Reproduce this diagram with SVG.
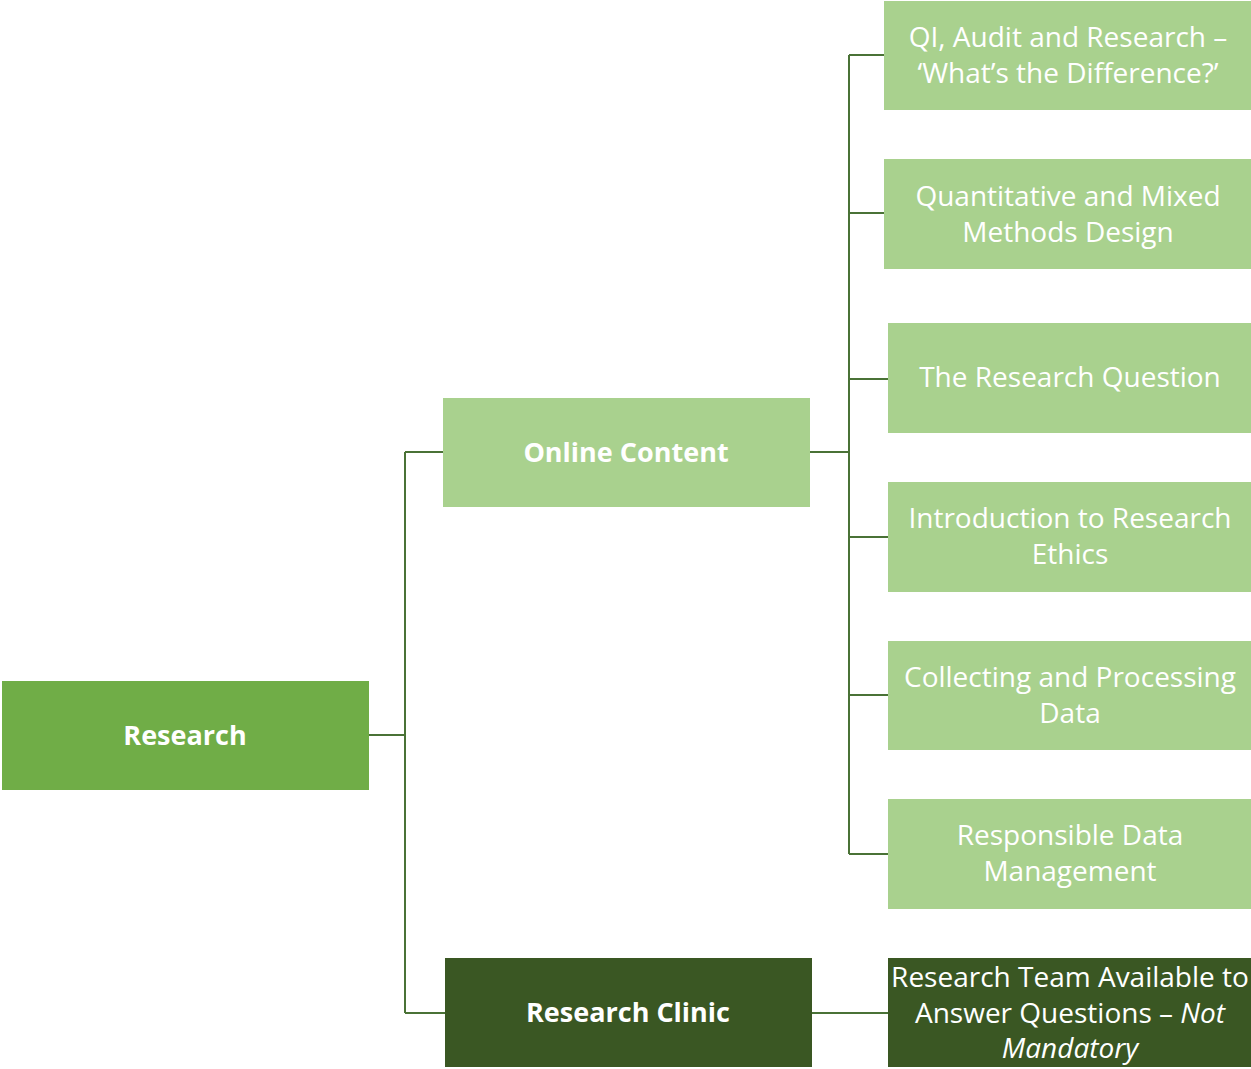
<svg xmlns="http://www.w3.org/2000/svg" width="1251" height="1069" viewBox="0 0 1251 1069">
<style>
.light{fill:#A9D18E}
.mid{fill:#70AD47}
.dark{fill:#3A5723}
.t{fill:#fff;font-family:"Open Sans","Liberation Sans",sans-serif;font-size:28px;text-anchor:middle;dominant-baseline:central}
.b{font-weight:bold;font-size:27px}
.c{fill:none;stroke:#4A7236;stroke-width:2}
</style>
<rect width="1251" height="1069" fill="#fff"/>
<g id="connectors">
<path class="c" d="M369 735H405M405 452V1013M405 452H443M405 1013H445"/>
<path class="c" d="M810 452H849M849 55V854M849 55H884M849 213H884M849 379H888M849 537H888M849 695H888M849 854H888"/>
<path class="c" d="M812 1013H888"/>
</g>
<g id="research"><rect class="mid" x="2" y="681" width="367" height="109"/><text class="t b" x="185" y="734">Research</text></g>
<g id="online-content"><rect class="light" x="443" y="398" width="367" height="109"/><text class="t b" x="626" y="451">Online Content</text></g>
<g id="research-clinic"><rect class="dark" x="445" y="958" width="367" height="109"/><text class="t b" x="628" y="1011">Research Clinic</text></g>
<g id="qi"><rect class="light" x="884" y="1" width="367" height="109"/><text class="t" x="1068" y="36">QI, Audit and Research –</text><text class="t" x="1068" y="72">‘What’s the Difference?’</text></g>
<g id="quant"><rect class="light" x="884" y="159" width="367" height="110"/><text class="t" x="1068" y="195">Quantitative and Mixed</text><text class="t" x="1068" y="231">Methods Design</text></g>
<g id="question"><rect class="light" x="888" y="323" width="363" height="110"/><text class="t" x="1070" y="376">The Research Question</text></g>
<g id="ethics"><rect class="light" x="888" y="482" width="363" height="110"/><text class="t" x="1070" y="517">Introduction to Research</text><text class="t" x="1070" y="553">Ethics</text></g>
<g id="collecting"><rect class="light" x="888" y="641" width="363" height="109"/><text class="t" x="1070" y="676">Collecting and Processing</text><text class="t" x="1070" y="712">Data</text></g>
<g id="responsible"><rect class="light" x="888" y="799" width="363" height="110"/><text class="t" x="1070" y="834">Responsible Data</text><text class="t" x="1070" y="870">Management</text></g>
<g id="team"><rect class="dark" x="888" y="958" width="363" height="109"/><text class="t" x="1070" y="976">Research Team Available to</text><text class="t" x="1070" y="1012">Answer Questions – <tspan font-style="italic">Not</tspan></text><text class="t" x="1070" y="1047" font-style="italic">Mandatory</text></g>
</svg>
